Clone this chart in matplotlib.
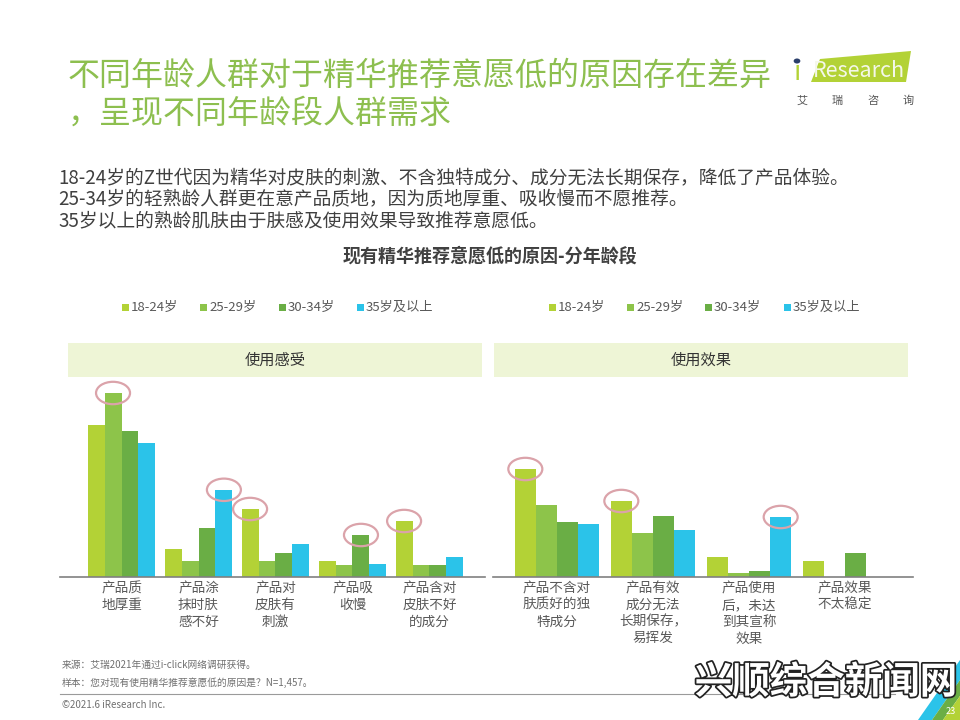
import matplotlib
matplotlib.use("Agg")
import matplotlib.pyplot as plt
from matplotlib.patches import Rectangle, Ellipse, Polygon, Circle
import matplotlib.patheffects as pe

plt.rcParams['font.family'] = ['Noto Sans CJK SC', 'DejaVu Sans']

# data (share of respondents, %)
age_groups = ["18-24岁", "25-29岁", "30-34岁", "35岁及以上"]
colors = ["#b3d236", "#8dc44a", "#6aae45", "#2bc3e9"]

feel_labels = ["产品质\n地厚重", "产品涂\n抹时肤\n感不好", "产品对\n皮肤有\n刺激", "产品吸\n收慢", "产品含对\n皮肤不好\n的成分"]
feel_values = [
    [38.0, 7.0, 17.0, 4.0, 14.0],   # 18-24
    [46.0, 4.0, 4.0, 3.0, 3.0],     # 25-29
    [36.5, 12.2, 6.0, 10.5, 3.0],   # 30-34
    [33.5, 21.8, 8.2, 3.2, 5.0],    # 35+
]
feel_marks = [(0, 1), (1, 3), (2, 0), (3, 2), (4, 0)]  # (category, age group) circled

effect_labels = ["产品不含对\n肤质好的独\n特成分", "产品有效\n成分无法\n长期保存，\n易挥发", "产品使用\n后，未达\n到其宣称\n效果", "产品效果\n不太稳定"]
effect_values = [
    [27.0, 19.0, 5.0, 4.0],
    [18.0, 11.0, 1.0, 0.0],
    [13.8, 15.2, 1.5, 6.0],
    [13.2, 11.8, 15.0, 0.0],
]
effect_marks = [(0, 0), (1, 0), (2, 3)]

W, H = 960, 720
fig = plt.figure(figsize=(9.6, 7.2), dpi=100)


def fx(x):
    return x / W


def fy(y):
    return 1 - y / H


# title and notes
fig.text(fx(68), fy(76), "不同年龄人群对于精华推荐意愿低的原因存在差异", fontsize=23, color="#8dbf4f", va="center")
fig.text(fx(68), fy(114), "，呈现不同年龄段人群需求", fontsize=23, color="#8dbf4f", va="center")
notes = ["18-24岁的Z世代因为精华对皮肤的刺激、不含独特成分、成分无法长期保存，降低了产品体验。",
         "25-34岁的轻熟龄人群更在意产品质地，因为质地厚重、吸收慢而不愿推荐。",
         "35岁以上的熟龄肌肤由于肤感及使用效果导致推荐意愿低。"]
for i, line in enumerate(notes):
    fig.text(fx(58), fy(178 + i * 21.5), line, fontsize=13.5, color="#404040", va="center")
fig.text(fx(490), fy(256), "现有精华推荐意愿低的原因-分年龄段", fontsize=13, fontweight="bold",
         color="#404040", ha="center", va="center")

# logo
fig.patches.append(Polygon([(fx(811), fy(82)), (fx(820), fy(59)), (fx(911), fy(51)), (fx(906), fy(82))],
                           closed=True, transform=fig.transFigure, facecolor="#b3d236", edgecolor="none"))
fig.text(fx(797), fy(72), "ı", fontsize=19, color="#b3d236", ha="center", va="center")
fig.patches.append(Circle((fx(797), fy(61)), 0.0035, transform=fig.transFigure, facecolor="#2b3f6b", edgecolor="none"))
fig.text(fx(859), fy(71), "Research", fontsize=15.5, color="#f4f7ea", ha="center", va="center")
for i, ch in enumerate("艾瑞咨询"):
    fig.text(fx(802 + i * 35.5), fy(101), ch, fontsize=8, color="#555555", ha="center", va="center")

# legends and section headers
legend_x = [[125, 203, 282, 360], [552, 630, 708, 787]]
for xs in legend_x:
    for x, lab, c in zip(xs, age_groups, colors):
        fig.patches.append(Rectangle((fx(x - 3.5), fy(310.5)), fx(7), 7 / H, transform=fig.transFigure,
                                     facecolor=c, edgecolor="none"))
        fig.text(fx(x + 6), fy(307), lab, fontsize=9.5, color="#595959", va="center")

for x0, x1, name in [(68, 482, "使用感受"), (494, 908, "使用效果")]:
    fig.patches.append(Rectangle((fx(x0), fy(377)), fx(x1 - x0), 34 / H, transform=fig.transFigure,
                                 facecolor="#eef5d6", edgecolor="none"))
    fig.text(fx((x0 + x1) / 2), fy(360), name, fontsize=11, color="#333333", ha="center", va="center")


def draw_panel(rect, labels, values, marks, xlim, px_per_unit):
    ax = fig.add_axes(rect)
    n = len(labels)
    bw = 0.22
    for k in range(4):
        xs = [i + (k - 1.5) * bw for i in range(n)]
        ax.bar(xs, values[k], width=bw, color=colors[k], linewidth=0)
    for cat, k in marks:
        x = cat + (k - 1.5) * bw
        ax.add_patch(Ellipse((x, values[k][cat]), 34 / px_per_unit, 5.6, fill=False,
                             edgecolor="#dba3aa", linewidth=1.6, clip_on=False))
    ax.set_xlim(*xlim)
    ax.set_ylim(0, 48)
    for s in ["top", "right", "left"]:
        ax.spines[s].set_visible(False)
    ax.spines["bottom"].set_color("#808080")
    ax.spines["bottom"].set_linewidth(1.2)
    ax.set_yticks([])
    ax.set_xticks(range(n))
    ax.set_xticklabels(labels, fontsize=9.8, color="#595959", linespacing=1.25, va="top")
    ax.tick_params(axis="x", length=0, pad=3)
    return ax


base = fy(577)
height = 192 / H
draw_panel([fx(60), base, fx(425), height], feel_labels, feel_values, feel_marks,
           ((60 - 121.5) / 77, (485 - 121.5) / 77), 77)
draw_panel([fx(493), base, fx(420), height], effect_labels, effect_values, effect_marks,
           ((493 - 557) / 96, (913 - 557) / 96), 96)

# footer
fig.text(fx(62), fy(665), "来源：艾瑞2021年通过i-click网络调研获得。", fontsize=7, color="#707070", va="center")
fig.text(fx(62), fy(683), "样本：您对现有使用精华推荐意愿低的原因是？N=1,457。", fontsize=7, color="#707070", va="center")
fig.lines.append(plt.Line2D([fx(60), fx(895)], [fy(694), fy(694)], transform=fig.transFigure,
                            color="#9a9a9a", linewidth=0.8))
fig.text(fx(62), fy(705), "©2021.6 iResearch Inc.", fontsize=7, color="#707070", va="center")

# corner decoration
fig.patches.append(Polygon([(fx(918), fy(720)), (fx(960), fy(660)), (fx(960), fy(680)), (fx(932), fy(720))],
                           closed=True, transform=fig.transFigure, facecolor="#2bc3e9", edgecolor="none"))
fig.patches.append(Polygon([(fx(932), fy(720)), (fx(960), fy(680)), (fx(960), fy(696)), (fx(943), fy(720))],
                           closed=True, transform=fig.transFigure, facecolor="#6aae45", edgecolor="none"))
fig.patches.append(Polygon([(fx(943), fy(720)), (fx(960), fy(696)), (fx(960), fy(720))],
                           closed=True, transform=fig.transFigure, facecolor="#b3d236", edgecolor="none"))
fig.text(fx(951), fy(711), "23", fontsize=6.5, color="#ffffff", ha="center", va="center")

# watermark
fig.text(fx(826), fy(682), "兴顺综合新闻网", fontsize=27, fontweight="bold", color="white",
         ha="center", va="center",
         path_effects=[pe.Stroke(linewidth=2.5, foreground="#222222"), pe.Normal()])

fig.savefig("out.png", dpi=100)
